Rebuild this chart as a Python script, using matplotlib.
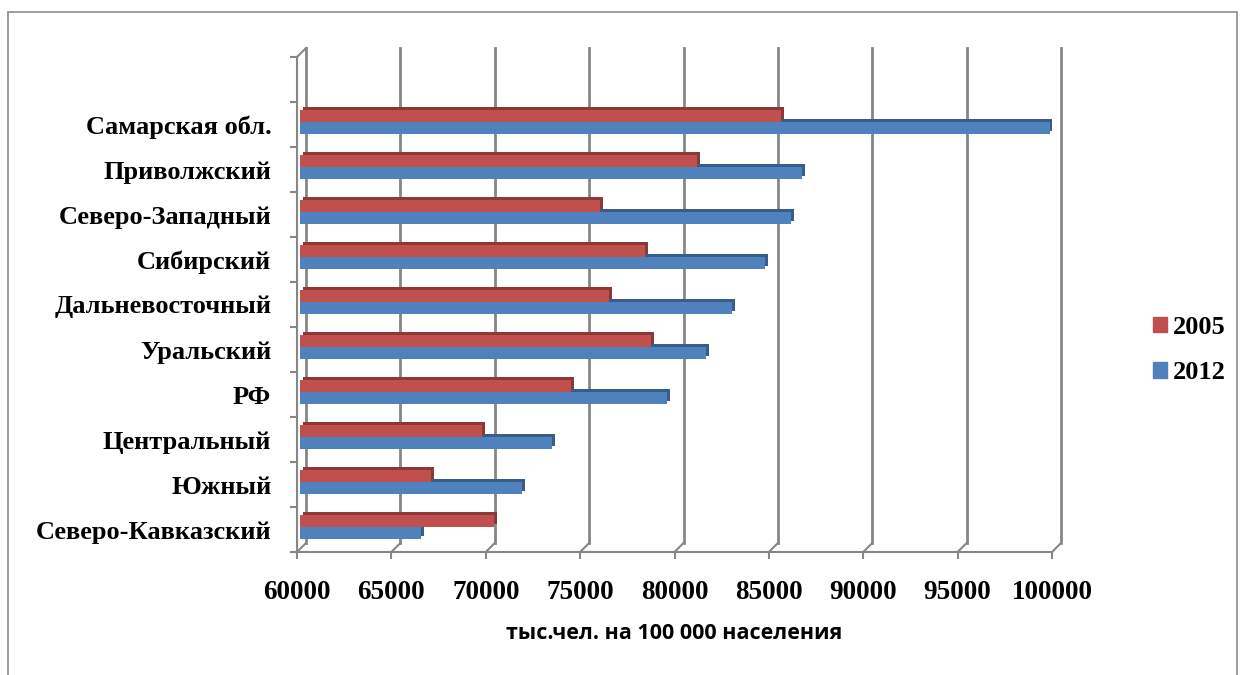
import matplotlib
matplotlib.use("Agg")
import matplotlib.pyplot as plt
import matplotlib.transforms as mtransforms
from matplotlib.patches import Rectangle, Patch

# Data (bottom to top)
regions = ["Северо-Кавказский", "Южный", "Центральный", "РФ", "Уральский",
           "Дальневосточный", "Сибирский", "Северо-Западный", "Приволжский",
           "Самарская обл."]
y2005 = [70260, 66960, 69640, 74360, 78580, 76380, 78300, 75890, 81010, 85500]
y2012 = [66400, 71770, 73340, 79470, 81490, 82870, 84610, 86030, 86600, 99750]
xticks = [60000, 65000, 70000, 75000, 80000, 85000, 90000, 95000, 100000]
series = ["2005", "2012"]
xlabel = "тыс.чел. на 100 000 населения"

RED, RED_DK = "#C0504D", "#8C3836"
BLUE, BLUE_DK = "#4F81BD", "#385D8A"
GRID = "#868686"
SERIF = ["Liberation Serif", "DejaVu Serif"]

fig = plt.figure(figsize=(12.42, 6.75), dpi=100)
ax = fig.add_axes([297 / 1242, 123 / 675, 755 / 1242, 495 / 675])
ax.set_xlim(60000, 100000)
ax.set_ylim(-0.5, 10.5)
for s in ax.spines.values():
    s.set_visible(False)

# outer chart border
fig.patches.append(Rectangle((8 / 1242, -0.1), 1229 / 1242, 1.1 - 12 / 675,
                             transform=fig.transFigure, fill=False,
                             edgecolor="#8c8c8c", lw=1.2))

# pixel depth of the fake 3D walls
p0 = ax.transData.transform((60000, 0))
p1 = ax.transData.transform((100000, 1))
ppx = (p1[0] - p0[0]) / 40000
ppy = p1[1] - p0[1]
dx, dy = 9 / ppx, 9 / ppy

# back-wall gridlines and floor connectors
for v in xticks:
    ax.plot([v + dx, v + dx], [-0.5 + dy, 10.5 + dy], color=GRID, lw=2,
            clip_on=False, zorder=0)
    ax.plot([v, v + dx], [-0.5, -0.5 + dy], color=GRID, lw=1.5,
            clip_on=False, zorder=0)
# front axes
ax.plot([60000, 100000], [-0.5, -0.5], color=GRID, lw=1.5, clip_on=False)
ax.plot([60000, 60000], [-0.5, 10.5], color=GRID, lw=1.5, clip_on=False)
ax.plot([60000, 60000 + dx], [10.5, 10.5 + dy], color=GRID, lw=1.5,
        clip_on=False)

# bars with a darker offset copy for the 3D look
y = list(range(len(regions)))
h = 0.27
front = mtransforms.offset_copy(ax.transData, fig=fig, x=3, y=0, units="dots")
back = mtransforms.offset_copy(ax.transData, fig=fig, x=6, y=3, units="dots")
for vals, off, c, cd in [(y2005, 0.195, RED, RED_DK), (y2012, -0.075, BLUE, BLUE_DK)]:
    yy = [i + off for i in y]
    w = [v - 60000 for v in vals]
    ax.barh(yy, w, left=60000, height=h, color=cd, transform=back, zorder=2)
    ax.barh(yy, w, left=60000, height=h, color=c, transform=front, zorder=3)

# ticks
ax.set_yticks(y)
ax.set_yticklabels(regions, fontfamily=SERIF, fontweight="bold", fontsize=19)
ax.set_yticks([i - 0.5 for i in range(12)], minor=True)
ax.tick_params(axis="y", which="major", length=0, pad=18.5)
ax.tick_params(axis="y", which="minor", length=5, width=1.5, color=GRID)
ax.set_xticks(xticks)
ax.set_xticklabels([str(v) for v in xticks], fontfamily=SERIF,
                   fontweight="bold", fontsize=19.5)
ax.tick_params(axis="x", length=5, width=1.5, color=GRID, pad=15)
ax.set_xlabel(xlabel, fontfamily=["Open Sans", "DejaVu Sans"],
              fontweight="bold", fontsize=15.5, labelpad=13)

handles = [Patch(color=RED), Patch(color=BLUE)]
fig.legend(handles, series, loc="center left",
           bbox_to_anchor=(1129 / 1242, 1 - 350 / 675), frameon=False,
           prop={"family": SERIF, "weight": "bold", "size": 19},
           handlelength=0.53, handleheight=0.53, handletextpad=0.25,
           labelspacing=0.84)

fig.savefig("out.png", dpi=100)
